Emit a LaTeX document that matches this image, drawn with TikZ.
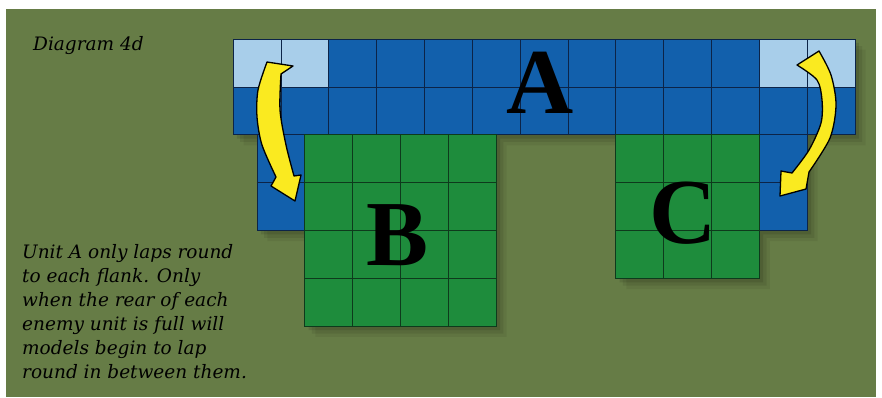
\documentclass[tikz,border=0pt]{standalone}
\usepackage{fontspec}
\usepackage{xcolor}
\newfontfamily\notefont{DejaVu Serif}
\newfontfamily\letterfont{Liberation Serif}

\definecolor{field}{RGB}{102,124,70}
\definecolor{unitblue}{RGB}{18,96,172}
\definecolor{paleblue}{RGB}{168,206,234}
\definecolor{unitgreen}{RGB}{30,140,60}
\definecolor{blueline}{RGB}{12,36,72}
\definecolor{greenline}{RGB}{14,58,28}
\definecolor{arrowyellow}{RGB}{250,234,32}

\tikzset{
  aline/.style={draw=blueline, line width=0.7pt},
  bline/.style={draw=greenline, line width=0.7pt},
  unitletter/.style={font=\letterfont\bfseries\fontsize{93}{93}\selectfont, inner sep=0pt, anchor=base},
  flankarrow/.style={fill=arrowyellow, draw=black, line width=1.3pt, line join=round},
  notetext/.style={font=\notefont\itshape\fontsize{18.5}{24}\selectfont, inner sep=0pt, align=left},
}

\begin{document}
\begin{tikzpicture}[x=1pt,y=-1pt]
\useasboundingbox (0,0) rectangle (882,397);
\fill[white] (0,0) rectangle (882,397);
\fill[field] (6,9) rectangle (876,397);

\node[notetext, anchor=base west] (title) at (33,50) {Diagram 4d};

\begin{scope}[shift={(233,39)}, x=47.85pt, y=-47.9pt]
% shadow
\foreach \d/\o in {0.22/0.06, 0.15/0.08, 0.08/0.1}
  \fill[black, opacity=\o, shift={(\d,\d)}] (0,0) rectangle (13,2) (0.5,2) rectangle (1.5,4)
    (1.5,2) rectangle (5.5,6) (8,2) rectangle (11,5) (11,2) rectangle (12,4);

% unit A with its two flanks
\fill[unitblue] (0,0) rectangle (13,2);
\fill[paleblue] (0,0) rectangle (2,1);
\fill[paleblue] (11,0) rectangle (13,1);
\fill[unitblue] (0.5,2) rectangle (1.5,4);
\fill[unitblue] (11,2) rectangle (12,4);
% units B and C
\fill[unitgreen] (1.5,2) rectangle (5.5,6);
\fill[unitgreen] (8,2) rectangle (11,5);

\draw[aline] (0,0) rectangle (13,2);
\foreach \i in {1,...,12}
  \draw[aline] (\i,0) -- (\i,2);
\draw[aline] (0,1) -- (13,1);
\draw[aline] (0.5,2) rectangle (1.5,4);
\draw[aline] (0.5,3) -- (1.5,3);
\draw[aline] (11,2) rectangle (12,4);
\draw[aline] (11,3) -- (12,3);

\draw[bline] (1.5,2) rectangle (5.5,6);
\foreach \i in {2.5,3.5,4.5}
  \draw[bline] (\i,2) -- (\i,6);
\foreach \j in {3,4,5}
  \draw[bline] (1.5,\j) -- (5.5,\j);
\draw[bline] (8,2) rectangle (11,5);
\foreach \i in {9,10}
  \draw[bline] (\i,2) -- (\i,5);
\foreach \j in {3,4}
  \draw[bline] (8,\j) -- (11,\j);
\end{scope}

\node[unitletter] (unitA) at (540,113) {A};
\node[unitletter] (unitB) at (398,265) {B};
\node[unitletter] (unitC) at (683,243) {C};

% lapping round the flanks
\filldraw[flankarrow] plot[smooth] coordinates {(267,62) (258,90) (257,117) (262,145) (276,177)}
  -- (271,186) -- (295,201) -- (301,175)
  -- plot[smooth] coordinates {(294,176) (286,145) (280,110) (281,74)} -- (293,66) -- cycle;
\filldraw[flankarrow] plot[smooth] coordinates {(819,51) (831,75) (836,105) (830,138) (809,172)}
  -- (806,189) -- (780,196) -- (781,171)
  -- plot[smooth] coordinates {(792,173) (809,150) (821,123) (822,100) (817,80) (797,65)} -- cycle;

\node[notetext, anchor=north west] (note) at (22,244) {Unit A only laps round\\to each flank. Only\\when the rear of each\\enemy unit is full will\\models begin to lap\\round in between them.};
\end{tikzpicture}
\end{document}
